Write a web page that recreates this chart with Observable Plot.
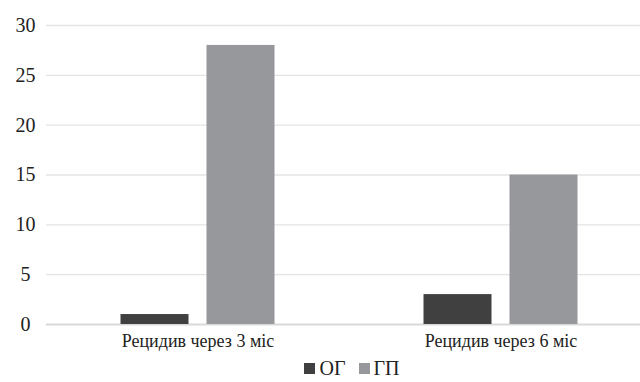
<!DOCTYPE html>
<html><head><meta charset="utf-8">
<script src="https://cdn.jsdelivr.net/npm/d3@7"></script>
<script src="https://cdn.jsdelivr.net/npm/@observablehq/plot@0.6"></script>
<style>
body{margin:0;background:#fff;font-family:'Liberation Serif','Times New Roman',serif;width:640px;}
#chart svg{display:block;}
svg, svg text{font-family:'Liberation Serif','Times New Roman',serif !important;}
#legend{margin-top:2px;width:640px;height:22px;box-sizing:border-box;padding-left:64px;display:flex;justify-content:center;align-items:center;gap:13px;font-size:20px;line-height:22px;color:#222;}
#legend span.sw{display:inline-block;width:11px;height:11px;margin-right:4px;}
#legend .it{display:flex;align-items:center;}
</style></head>
<body><div id="chart"></div><div id="legend"></div>
<script>
const categories = ["Рецидив через 3 міс", "Рецидив через 6 міс"];
const series = ["ОГ", "ГП"];
const valuesOG = [1, 3];
const valuesGP = [28, 15];
const colors = ["#404040", "#97989c"];
const yTicks = [0, 5, 10, 15, 20, 25, 30];

const data = [];
categories.forEach((c, i) => {
  data.push({cat: c, s: series[0], v: valuesOG[i]});
  data.push({cat: c, s: series[1], v: valuesGP[i]});
});

const chart = Plot.plot({
  width: 640, height: 355,
  marginTop: 25, marginBottom: 31, marginLeft: 45.5, marginRight: -13,
  style: {background: "#fff", color: "#222"},
  fx: {domain: categories, padding: 0, label: null},
  x: {domain: series, paddingInner: 0.208, paddingOuter: 0.861, axis: null},
  y: {domain: [0, 30], ticks: yTicks, label: null},
  color: {domain: series, range: colors},
  marks: [
    Plot.ruleY(yTicks.filter(d => d > 0), {stroke: "#e4e4e4", strokeWidth: 1.3}),
    Plot.ruleY([0], {stroke: "#d9d9d9", strokeWidth: 2}),
    Plot.barY(data, {fx: "cat", x: "s", y: "v", fill: "s"}),
    Plot.axisY({ticks: yTicks, tickSize: 0, tickPadding: 21, fontSize: 20, textAnchor: "middle", anchor: "left"}),
    Plot.axisFx({tickSize: 0, tickPadding: 10, fontSize: 18, anchor: "bottom"})
  ]
});
document.getElementById("chart").appendChild(chart);

const leg = document.getElementById("legend");
series.forEach((s, i) => {
  const it = document.createElement("div");
  it.className = "it";
  it.innerHTML = `<span class="sw" style="background:${colors[i]}"></span>${s}`;
  leg.appendChild(it);
});
</script></body></html>
